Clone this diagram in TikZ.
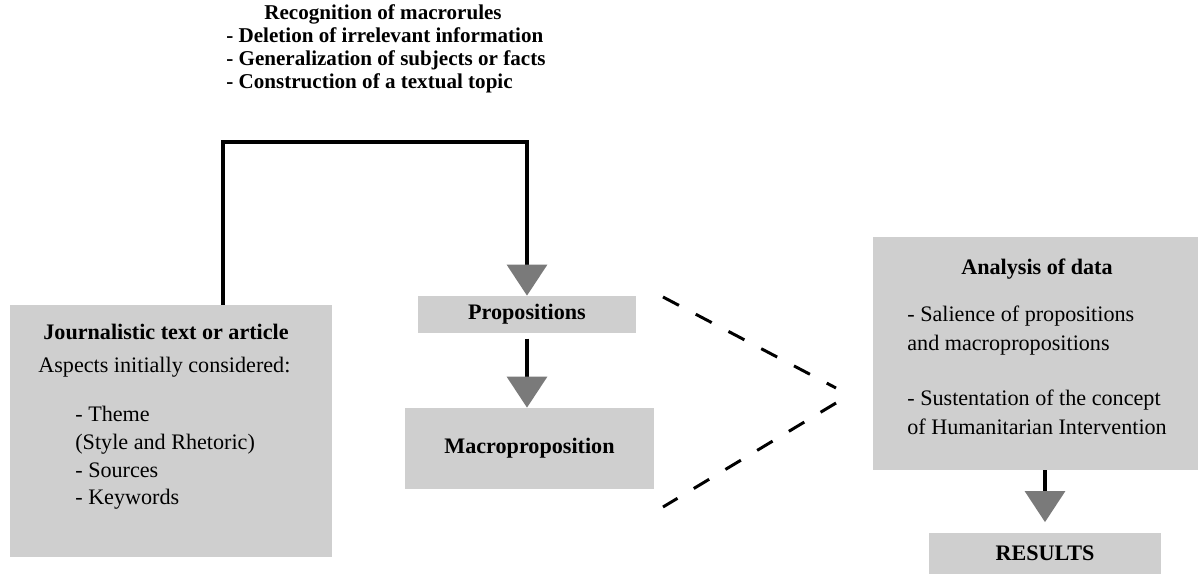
\documentclass[tikz,border=0pt]{standalone}
\usepackage{fontspec}
\setmainfont{Liberation Serif}
\usetikzlibrary{arrows.meta}
\definecolor{boxgray}{gray}{0.81}
\definecolor{tipgray}{gray}{0.48}

\begin{document}
\begin{tikzpicture}[x=0.02cm,y=-0.02cm]
            \tikzstyle{every node}+=[inner sep=0pt]
            \tikzstyle{greybox}=[fill=boxgray, draw=none]
            \tikzstyle{txt}=[font=\fontsize{12.6}{15.7}\selectfont]
            \tikzstyle{btxt}=[font=\fontsize{12.6}{15.7}\selectfont\bfseries]
            \tikzstyle{toptxt}=[font=\fontsize{12}{13}\selectfont\bfseries]
            \tikzstyle{conn}=[black, line width=1.8pt, -{Triangle[width=0.8cm,length=0.62cm,color=tipgray]}]
            \tikzstyle{dashline}=[black, line width=1.7pt, dash pattern=on 0.36cm off 0.38cm]
            \useasboundingbox (0,0) rectangle (1200,574);
            % boxes
            \node [greybox, minimum width=6.44cm, minimum height=5.04cm] (jour) at (171,431) {};
            \node [greybox, btxt, minimum width=4.36cm, minimum height=0.74cm] (prop) at (527,314.5) {Propositions};
            \node [greybox, btxt, minimum width=4.98cm, minimum height=1.62cm] (macro) at (529.5,448.5) {Macroproposition};
            \node [greybox, minimum width=6.5cm, minimum height=4.66cm] (analysis) at (1035.5,353.5) {};
            \node [greybox, btxt, minimum width=4.64cm, minimum height=0.82cm] (results) at (1045,553.5) {RESULTS};
            % texts
            \node [toptxt] (macrotitle) at (383,14) {Recognition of macrorules};
            \node [toptxt, anchor=west, align=left] (macrolist) at (226,60) {- Deletion of irrelevant information\\- Generalization of subjects or facts\\- Construction of a textual topic};
            \node [btxt] (jourtitle) at (166,332) {Journalistic text or article};
            \node [txt, anchor=west] (jouraspects) at (38,367) {Aspects initially considered:};
            \node [txt, anchor=west, align=left] (jourlist) at (75,458) {- Theme\\(Style and Rhetoric)\\- Sources\\- Keywords};
            \node [btxt] (antitle) at (1037,269) {Analysis of data};
            \node [txt, font=\fontsize{12.6}{16.4}\selectfont, anchor=west, align=left] (anlist) at (907,370) {- Salience of propositions\\and macropropositions\\[15pt]- Sustentation of the concept\\of Humanitarian Intervention};
            % connectors
            \coordinate (bendl) at (223,142);
            \coordinate (bendr) at (527,142);
            \draw [conn] (bendl |- jour.north) -- (bendl) -- (bendr) -- (prop.north);
            \draw [conn, shorten <=3pt] (prop.south) -- (prop.south |- macro.north);
            \draw [conn, shorten >=6pt] (results.north |- analysis.south) -- (results.north);
            % dashed lines
            \coordinate (dashtop) at (663,297);
            \coordinate (dashup) at (836,388);
            \coordinate (dashlow) at (836,403);
            \coordinate (dashbot) at (663,507);
            \draw [dashline] (dashtop) -- (dashup);
            \draw [dashline] (dashlow) -- (dashbot);
\end{tikzpicture}
\end{document}
